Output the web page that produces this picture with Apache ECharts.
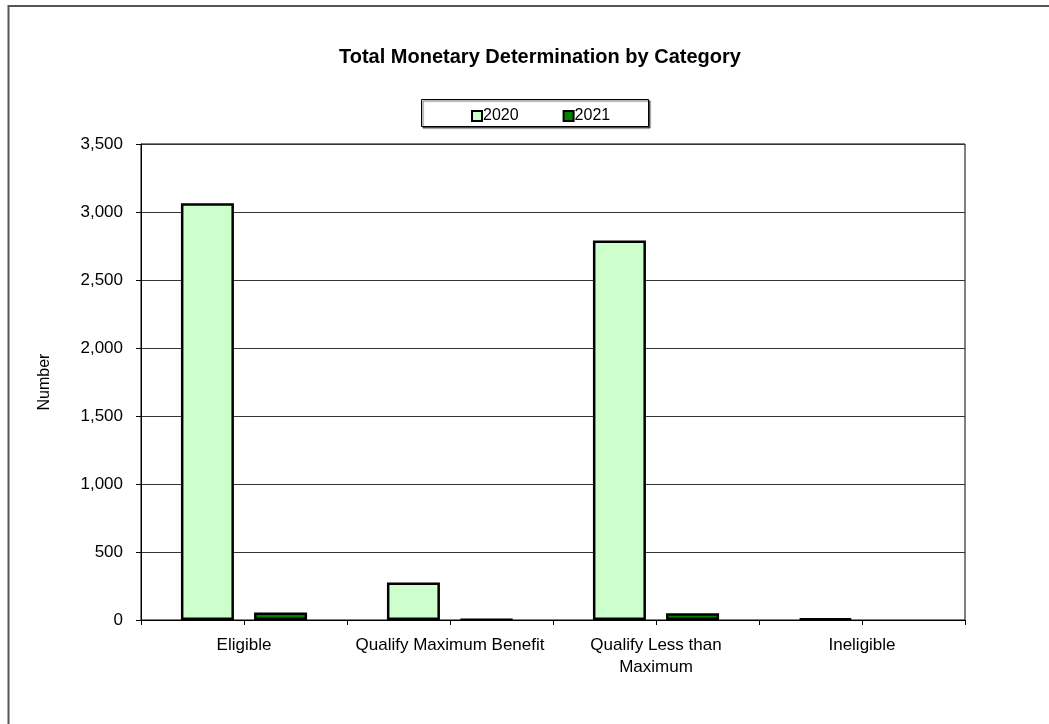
<!DOCTYPE html>
<html><head><meta charset="utf-8">
<script src="https://cdn.jsdelivr.net/npm/echarts@6/dist/echarts.min.js"></script>
<style>html,body{margin:0;padding:0;background:#fff}#c{width:1049px;height:724px}</style>
</head><body><div id="c"></div>
<script>
const categories = ['Eligible', 'Qualify Maximum Benefit', 'Qualify Less than Maximum', 'Ineligible'];
const values2020 = [3065, 275, 2790, 10];
const values2021 = [55, 5, 50, 0];
const seriesNames = ['2020', '2021'];

const chart = echarts.init(document.getElementById('c'));
const font = 'Liberation Sans, Arial, sans-serif';
chart.setOption({
  animation: false,
  backgroundColor: '#fff',
  textStyle: { fontFamily: font },
  title: {
    text: 'Total Monetary Determination by Category',
    left: 334, top: 42,
    textStyle: { fontSize: 20, fontWeight: 'bold', color: '#000', fontFamily: font }
  },
  graphic: [
    { type: 'polyline', shape: { points: [[8.5, 724], [8.5, 6], [1049, 6]] }, style: { fill: 'none', stroke: '#555', lineWidth: 2 }, z: -1 },
    { type: 'rect', shape: { x: 421.5, y: 99.5, width: 227, height: 27 }, style: { fill: '#fff', stroke: '#000', lineWidth: 1, shadowColor: 'rgba(0,0,0,0.6)', shadowOffsetX: 1.5, shadowOffsetY: 1.5, shadowBlur: 1 }, z: 0 }
  ],
  legend: {
    data: seriesNames, left: 466, top: 103, itemWidth: 10, itemHeight: 10, itemGap: 44, z: 10,
    icon: 'rect',
    itemStyle: { borderWidth: 2, borderColor: '#000' },
    textStyle: { fontSize: 16, color: '#000', fontFamily: font, padding: [0, 0, 0, -4] }
  },
  grid: { left: 141, top: 144, width: 824, height: 476, show: true, borderColor: '#000', borderWidth: 1, containLabel: false },
  xAxis: [{
    type: 'category', data: categories,
    axisLine: { lineStyle: { color: '#000' } },
    axisTick: { show: false },
    axisLabel: { interval: 0, color: '#000', fontSize: 17, margin: 14, lineHeight: 22, fontFamily: font,
      formatter: v => v === 'Qualify Less than Maximum' ? 'Qualify Less than\nMaximum' : v }
  }, {
    type: 'value', min: 0, max: 4, interval: 0.5, position: 'bottom',
    axisLine: { show: false }, splitLine: { show: false }, axisLabel: { show: false },
    axisTick: { show: true, length: 5, lineStyle: { color: '#000' } }
  }],
  yAxis: {
    type: 'value', min: 0, max: 3500, interval: 500,
    name: 'Number', nameLocation: 'middle', nameGap: 88, nameRotate: 90,
    nameTextStyle: { fontSize: 16, color: '#000', fontFamily: font },
    axisLine: { show: true, lineStyle: { color: '#000' } },
    axisTick: { show: true, length: 5, lineStyle: { color: '#000' } },
    axisLabel: { color: '#000', fontSize: 17, margin: 18, fontFamily: font,
      formatter: v => v.toLocaleString('en-US') },
    splitLine: { lineStyle: { color: '#333', width: 1 } }
  },
  series: [
    { name: seriesNames[0], type: 'bar', data: values2020, barWidth: 53, barGap: '38%',
      itemStyle: { color: '#CCFFCC', borderColor: '#000', borderWidth: 2.5 } },
    { name: seriesNames[1], type: 'bar', barWidth: 53,
      data: values2021.map(v => v === 0 ? { value: v, itemStyle: { borderWidth: 0 } } : v),
      itemStyle: { color: '#008000', borderColor: '#000', borderWidth: 2.5 } }
  ]
});
</script></body></html>
